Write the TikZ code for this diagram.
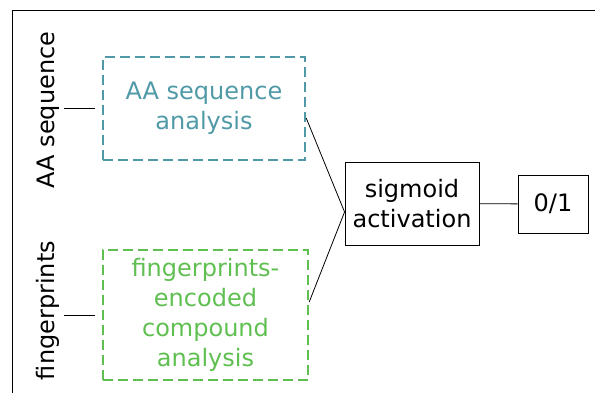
\documentclass[tikz,border=0pt]{standalone}
\usepackage{fontspec}
\setmainfont{DejaVu Sans}
\usepackage{xcolor}
\usetikzlibrary{arrows.meta, positioning, calc}
\definecolor{seqteal}{HTML}{4F9AA6}
\definecolor{fpgreen}{HTML}{5FBF50}
\tikzset{
    netdiagram/.style={x=1pt, y=-1pt, font=\fontsize{24}{30}\selectfont, line width=0.8pt},
    branchbox/.style={draw, dashed, line width=2.4pt, dash pattern=on 10pt off 5pt, align=center, inner sep=0pt},
    layerbox/.style={draw, line width=0.9pt, align=center, inner sep=0pt},
    inputlabel/.style={rotate=90, inner sep=0pt},
}

\begin{document}
\begin{tikzpicture}[netdiagram]
        \useasboundingbox (0,0) rectangle (595,393);
        \draw[line width=1.2pt] (12.5,393) -- (12.5,10.5) -- (595,10.5);

        \node[branchbox, draw=seqteal, text=seqteal, minimum width=202pt, minimum height=103pt] (seqbox) at (204,108.5) {AA sequence\\analysis};
        \node[branchbox, draw=fpgreen, text=fpgreen, minimum width=205pt, minimum height=130pt] (fpbox) at (205.5,315) {fingerprints-\\encoded\\compound\\analysis};
        \node[layerbox, minimum width=134pt, minimum height=83pt] (sigm) at (412,203.5) {sigmoid\\activation};
        \node[layerbox, minimum width=70pt, minimum height=58pt] (out) at (553,204) {0/1};

        \node[inputlabel] (seqlabel) at (48,110) {AA sequence};
        \node[inputlabel] (fplabel) at (48,310.5) {fingerprints};

        % inputs into the two branches
        \draw ([xshift=4pt]seqlabel.south |- seqbox.west) -- ([xshift=-7pt]seqbox.west);
        \draw ([xshift=4pt]fplabel.south |- fpbox.west) -- ([xshift=-7pt]fpbox.west);

        % both branches meet at the sigmoid layer
        \coordinate (join) at ([yshift=-8.5pt]sigm.west);
        \draw ([yshift=-9.5pt]seqbox.east) -- (join);
        \draw ([yshift=13pt]fpbox.east) -- (join);
        \draw (sigm) -- (out);
    \end{tikzpicture}
\end{document}
